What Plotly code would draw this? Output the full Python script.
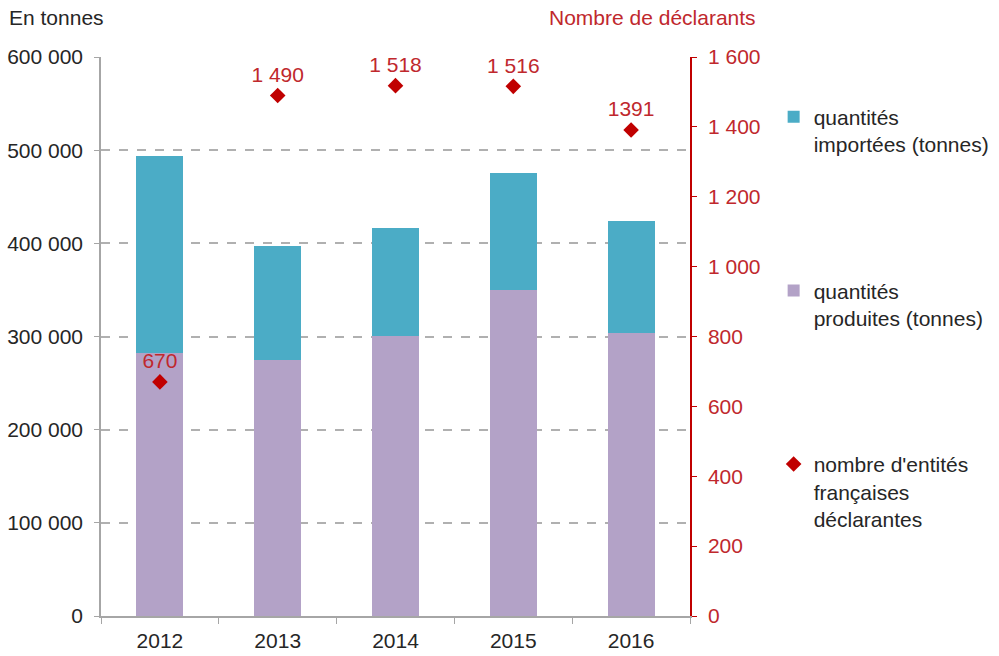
import plotly.graph_objects as go

years = ["2012", "2013", "2014", "2015", "2016"]
produced = [282000, 275000, 301000, 350000, 304000]
imported = [212000, 122000, 115000, 125000, 120000]
declarants = [670, 1490, 1518, 1516, 1391]
declarant_labels = ["670", "1 490", "1 518", "1 516", "1391"]

TEAL = "#4bacc6"
LILAC = "#b3a2c7"
RED = "#c00000"
LABEL_RED = "#c0282d"
TEXT = "#262626"
FONT = "Liberation Sans, Arial, sans-serif"
FS = 21

fig = go.Figure()

fig.add_trace(go.Bar(
    x=years, y=produced, name="quantités<br>produites (tonnes)",
    marker=dict(color=LILAC, line=dict(width=0)), width=0.4,
    legendgroup="b", legendrank=2,
))
fig.add_trace(go.Bar(
    x=years, y=imported, name="quantités<br>importées (tonnes)",
    marker=dict(color=TEAL, line=dict(width=0)), width=0.4,
    legendgroup="a", legendrank=1,
))
fig.add_trace(go.Scatter(
    x=years, y=declarants, yaxis="y2", mode="markers+text",
    name="nombre d'entités<br>françaises<br>déclarantes",
    marker=dict(symbol="diamond", color=RED, size=12),
    text=declarant_labels, textposition="top center",
    textfont=dict(color=LABEL_RED, size=FS, family=FONT),
    legendgroup="c", legendrank=3,
))

fig.update_layout(
    width=999, height=656,
    margin=dict(l=101, r=309, t=57, b=40, autoexpand=False),
    paper_bgcolor="white", plot_bgcolor="white",
    barmode="stack",
    separators=", ",
    font=dict(family=FONT, size=FS, color=TEXT),
    showlegend=True,
    legend=dict(
        x=1.142, y=0.929, xanchor="left", yanchor="top",
        traceorder="grouped", tracegroupgap=116, valign="top",
        itemwidth=30, font=dict(size=FS, color=TEXT),
        bgcolor="rgba(0,0,0,0)",
    ),
    xaxis=dict(
        showline=True, linecolor="#a6a6a6", linewidth=1.5,
        ticks="outside", tickson="boundaries", ticklen=6,
        tickcolor="#a6a6a6", tickfont=dict(size=FS, color=TEXT),
        ticklabelstandoff=5, showgrid=False, automargin=False,
    ),
    yaxis=dict(
        range=[0, 600000], dtick=100000, tickformat=",d",
        showline=True, linecolor="#a6a6a6", linewidth=1.5,
        ticks="outside", ticklen=5, tickcolor="#a6a6a6",
        ticklabelstandoff=7, automargin=False,
        showgrid=True, gridcolor="#b0b0b0", griddash="dash", gridwidth=1.5,
        zeroline=False, tickfont=dict(size=FS, color=TEXT),
    ),
    yaxis2=dict(
        range=[0, 1600], dtick=200, tickformat=",d",
        overlaying="y", side="right", anchor="x",
        showline=True, linecolor=RED, linewidth=1.5,
        ticks="outside", ticklen=5, tickcolor=RED,
        ticklabelstandoff=7, automargin=False,
        showgrid=False, zeroline=False,
        tickfont=dict(size=FS, color=LABEL_RED),
    ),
    annotations=[
        dict(text="En tonnes", xref="paper", yref="paper", x=-0.160, y=1.0,
             yshift=40, xanchor="left", yanchor="middle", showarrow=False,
             font=dict(size=FS, color=TEXT)),
        dict(text="Nombre de déclarants", xref="paper", yref="paper", x=1.1155,
             y=1.0, yshift=40, xanchor="right", yanchor="middle", showarrow=False,
             font=dict(size=FS, color=LABEL_RED)),
    ],
)

fig.write_html("out.html")
